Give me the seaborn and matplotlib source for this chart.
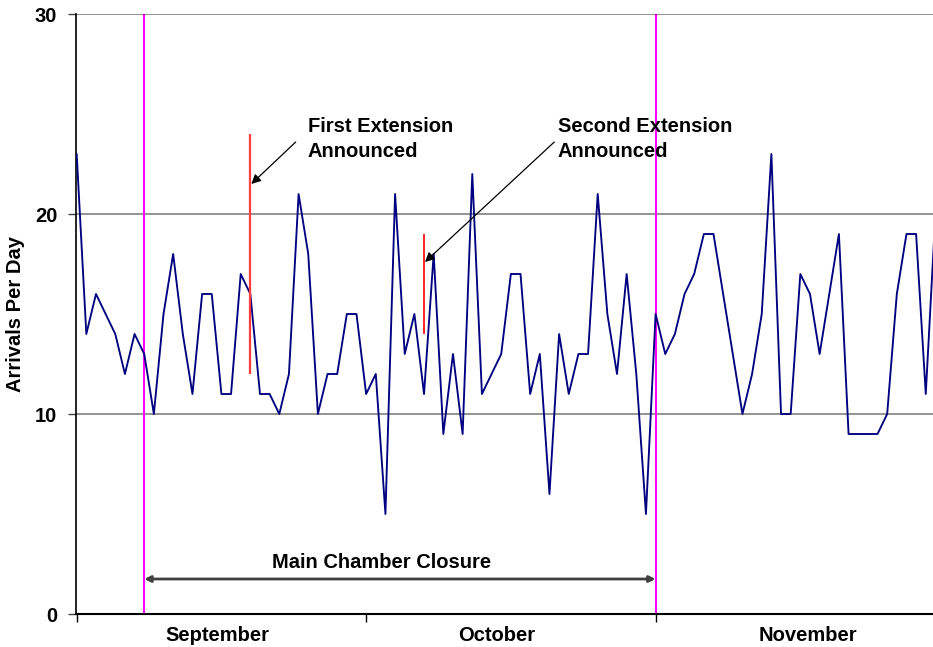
import numpy as np
import pandas as pd
import matplotlib
matplotlib.use("Agg")
import matplotlib.pyplot as plt
import seaborn as sns

# Daily arrivals, starting 1 September
arrivals = [23, 14, 16, 15, 14, 12, 14, 13, 10, 15,
            18, 14, 11, 16, 16, 11, 11, 17, 16, 11,
            11, 10, 12, 21, 18, 10, 12, 12, 15, 15,
            11, 12, 5, 21, 13, 15, 11, 18, 9, 13,
            9, 22, 11, 12, 13, 17, 17, 11, 13, 6,
            14, 11, 13, 13, 21, 15, 12, 17, 12, 5,
            15, 13, 14, 16, 17, 19, 19, 16, 13, 10,
            12, 15, 23, 10, 10, 17, 16, 13, 16, 19,
            9, 9, 9, 9, 10, 16, 19, 19, 11, 20]
months = ["September", "October", "November"]
closure_days = [7, 60]                 # start / end of main chamber closure
first_ext_day, first_ext_span = 18, (12, 24)
second_ext_day, second_ext_span = 36, (14, 19)

df = pd.DataFrame({"day": np.arange(len(arrivals)), "arrivals": arrivals})

sns.set_style("white")
plt.rcParams["font.family"] = ["Liberation Sans", "DejaVu Sans"]
plt.rcParams["font.weight"] = "bold"
plt.rcParams["text.color"] = "black"
plt.rcParams["axes.labelcolor"] = "black"
plt.rcParams["xtick.color"] = "black"
plt.rcParams["ytick.color"] = "black"

FS = 14.5

fig = plt.figure(figsize=(9.33, 6.47), dpi=100)
ax = fig.add_axes([76 / 933, 33 / 647, 857 / 933, 600 / 647])

# horizontal grid
for g in (10, 20, 30):
    ax.axhline(g, color="#808080", lw=1.2, zorder=1)

sns.lineplot(data=df, x="day", y="arrivals", color="#000080", lw=1.35,
             ax=ax, zorder=4)

# closure boundaries
for d in closure_days:
    ax.axvline(d, color="#FF00FF", lw=1.5, zorder=3)

# extension markers
ax.vlines(first_ext_day, *first_ext_span, color="#FF3B3B", lw=1.6, zorder=5)
ax.vlines(second_ext_day, *second_ext_span, color="#FF0000", lw=1.2, zorder=5)

txt_kw = dict(fontsize=FS, fontweight="bold", ha="left", va="center",
              linespacing=1.42, color="black")
ax.text(23.95, 23.75, "First Extension\nAnnounced", **txt_kw)
ax.text(49.85, 23.75, "Second Extension\nAnnounced", **txt_kw)

arrow_kw = dict(arrowstyle="-|>", color="black", lw=0.9,
                mutation_scale=14, shrinkA=0, shrinkB=0)
ax.annotate("", xy=(18.1, 21.5), xytext=(22.7, 23.6), arrowprops=arrow_kw, zorder=6)
ax.annotate("", xy=(36.1, 17.6), xytext=(49.5, 23.6), arrowprops=arrow_kw, zorder=6)

# closure span
ax.annotate("", xy=(closure_days[0], 1.75), xytext=(closure_days[1], 1.75),
            arrowprops=dict(arrowstyle="<|-|>", color="#404040", lw=2,
                            mutation_scale=9, shrinkA=0, shrinkB=0))
ax.text(31.6, 2.6, "Main Chamber Closure", fontsize=FS, fontweight="bold",
        ha="center", va="center")

ax.set_xlim(-0.07, 88.75)
ax.set_ylim(0, 30)
ax.set_yticks([0, 10, 20, 30])
ax.set_yticklabels(["0", "10", "20", "30"], fontsize=FS, fontweight="bold")
ax.set_xticks([0, 30, 60])
ax.set_xticklabels([])
ax.set_xticks([14.55, 43.55, 75.8], minor=True)
ax.set_xticklabels(months, minor=True, fontsize=FS, fontweight="bold")
ax.tick_params(axis="y", which="major", direction="out", length=6, width=1,
               color="#404040", pad=7.5, left=True)
ax.tick_params(axis="x", which="major", direction="out", length=6, width=1,
               color="black", bottom=True)
ax.tick_params(axis="x", which="minor", length=0, pad=8.5)

ax.set_xlabel("")
ax.set_ylabel("Arrivals Per Day", fontsize=FS, fontweight="bold")
ax.yaxis.set_label_coords(-0.0595, 0.5)

for s in ("top", "right"):
    ax.spines[s].set_visible(False)
ax.spines["left"].set_color("black")
ax.spines["left"].set_linewidth(1.2)
ax.spines["bottom"].set_color("black")
ax.spines["bottom"].set_linewidth(1.5)
ax.spines["bottom"].set_zorder(6)

fig.savefig("out.png", dpi=100)
